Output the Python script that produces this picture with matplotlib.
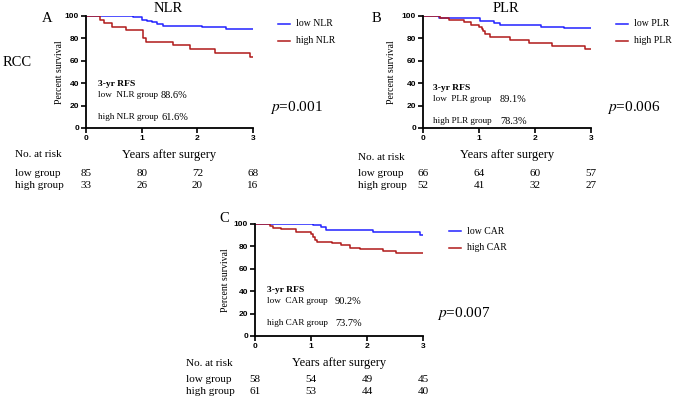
import matplotlib
matplotlib.use("Agg")
import matplotlib.pyplot as plt
from matplotlib.lines import Line2D
import matplotlib.transforms as mtransforms

plt.rcParams["mathtext.fontset"] = "stix"

W, H = 677, 405
SERIF = "Liberation Serif"
SANS = "Liberation Sans"
BLUE = "#2222ff"
RED = "#b01a1a"

# ---------------- data ----------------
years_ticks = [0, 1, 2, 3]
survival_ticks = [0, 20, 40, 60, 80, 100]

# Panel A: NLR
nlr_low_t = [0, 0.85, 1.00, 1.09, 1.18, 1.27, 1.39, 2.09, 2.52, 3.0]
nlr_low_s = [100, 98.8, 96.8, 95.5, 94.2, 92.9, 91.4, 89.9, 88.6, 88.6]
nlr_high_t = [0, 0.25, 0.32, 0.47, 0.72, 1.03, 1.07, 1.57, 1.87, 2.31, 2.94, 3.0]
nlr_high_s = [100, 96.5, 93.6, 90.5, 87.1, 80.2, 77.2, 73.9, 70.3, 66.8, 63.0, 63.0]
nlr_risk_low = [85, 80, 72, 68]
nlr_risk_high = [33, 26, 20, 16]
nlr_rfs = ["88.6%", "61.6%"]
nlr_p = "0.001"

# Panel B: PLR
plr_low_t = [0, 0.28, 1.02, 1.27, 1.38, 2.10, 2.51, 3.0]
plr_low_s = [100, 98.5, 95.8, 93.6, 92.1, 90.5, 89.1, 89.1]
plr_high_t = [0, 0.30, 0.46, 0.73, 0.85, 1.00, 1.05, 1.08, 1.11, 1.20, 1.56, 1.89, 2.30, 2.90, 3.0]
plr_high_s = [100, 98.0, 96.1, 94.2, 92.2, 90.2, 88.2, 86.2, 84.2, 80.9, 78.3, 76.0, 73.3, 70.9, 70.9]
plr_risk_low = [66, 64, 60, 57]
plr_risk_high = [52, 41, 32, 27]
plr_rfs = ["89.1%", "78.3%"]
plr_p = "0.006"

# Panel C: CAR
car_low_t = [0, 1.04, 1.18, 1.27, 2.10, 2.94, 3.0]
car_low_s = [100, 99.0, 97.0, 94.6, 92.6, 90.2, 90.2]
car_high_t = [0, 0.27, 0.32, 0.47, 0.74, 1.00, 1.04, 1.07, 1.10, 1.38, 1.54, 1.69, 1.87, 2.29, 2.52, 3.0]
car_high_s = [100, 98.2, 96.8, 95.4, 93.0, 91.2, 88.0, 86.0, 84.0, 82.7, 81.0, 79.0, 77.4, 75.6, 73.7, 73.7]
car_risk_low = [58, 54, 49, 45]
car_risk_high = [61, 53, 44, 40]
car_rfs = ["90.2%", "73.7%"]
car_p = "0.007"

# ---------------- figure ----------------
fig = plt.figure(figsize=(W / 100, H / 100), dpi=100)
fig.patch.set_facecolor("white")


def fx(x):
    return x / W


def fy(y):
    return 1 - y / H


def ftext(x, y, s, **kw):
    kw.setdefault("family", SERIF)
    kw.setdefault("va", "center")
    kw.setdefault("ha", "left")
    fig.text(fx(x), fy(y), s, **kw)


def panel(box, letter, letter_xy, title, title_xy, name,
          low_t, low_s, high_t, high_s, risk_low, risk_high, rfs, pval,
          leg_xy, ylab_x, inner_xy, pct_x, p_xy, risk_x, risk_ys, xlab_y):
    left, top, right, bottom = box
    ax = fig.add_axes([fx(left), fy(bottom), fx(right - left), (bottom - top) / H])
    ax.step(low_t, low_s, where="post", color=BLUE, lw=1.1)
    ax.step(high_t, high_s, where="post", color=RED, lw=1.1)
    ax.set_xlim(0, 3)
    ax.set_ylim(0, 100)
    ax.set_xticks(years_ticks)
    ax.set_yticks(survival_ticks)
    for sp in ["top", "right"]:
        ax.spines[sp].set_visible(False)
    for sp in ["left", "bottom"]:
        ax.spines[sp].set_linewidth(1.3)
    ax.tick_params(width=1.2, length=3.5, pad=1.5, labelsize=6)
    for lab in ax.get_xticklabels() + ax.get_yticklabels():
        lab.set_family(SANS)
        lab.set_fontweight("bold")
    ax.patch.set_alpha(0)

    # labels
    if title:
        ftext(title_xy[0], title_xy[1], title, ha="center", fontsize=10.5)
    ftext(letter_xy[0], letter_xy[1], letter, ha="center", fontsize=10.5)
    ftext(ylab_x, (top + bottom) / 2, "Percent survival", ha="center",
          rotation=90, fontsize=7)

    # legend
    lx, ly = leg_xy
    for i, (c, lab) in enumerate([(BLUE, f"low {name}"), (RED, f"high {name}")]):
        yy = ly + i * 16.5
        fig.add_artist(Line2D([fx(lx), fx(lx + 12)], [fy(yy), fy(yy)],
                              color=c, lw=1.1, transform=fig.transFigure))
        ftext(lx + 18, yy, lab, fontsize=7)

    # inner text
    ix, iy = inner_xy
    ftext(ix, iy[0], "3-yr RFS", fontsize=6.8, fontweight="bold")
    ftext(ix, iy[1], f"low  {name} group", fontsize=6.6)
    ftext(pct_x, iy[1], rfs[0], fontsize=7.5)
    ftext(ix, iy[2], f"high {name} group", fontsize=6.6)
    ftext(pct_x, iy[2], rfs[1], fontsize=7.5)

    # p value
    fig.text(fx(p_xy[0]), fy(p_xy[1]), r"$p$" + "=" + pval,
             family=SERIF, fontsize=11, va="center", ha="left")

    # x label and risk table
    ftext((left + right) / 2, xlab_y, "Years after surgery", ha="center", fontsize=9)
    ftext(risk_x, risk_ys[0], "No. at risk", fontsize=8)
    ftext(risk_x, risk_ys[1], "low group", fontsize=8)
    ftext(risk_x, risk_ys[2], "high group", fontsize=8)
    trans = mtransforms.blended_transform_factory(ax.transData, fig.transFigure)
    for xv, a, b in zip(years_ticks, risk_low, risk_high):
        fig.text(xv, fy(risk_ys[1]), str(a), transform=trans, ha="center",
                 va="center", family=SERIF, fontsize=8)
        fig.text(xv, fy(risk_ys[2]), str(b), transform=trans, ha="center",
                 va="center", family=SERIF, fontsize=8)
    return ax


panel((86, 16, 253, 128), "A", (47, 19), "NLR", (168, 8), "NLR",
      nlr_low_t, nlr_low_s, nlr_high_t, nlr_high_s, nlr_risk_low, nlr_risk_high,
      nlr_rfs, nlr_p, (278, 24), 59, (98, (84, 95, 117)), 161, (270, 108),
      15, (155, 173, 186), 155)

panel((423, 16, 591, 128), "B", (376, 19), "PLR", (506, 8), "PLR",
      plr_low_t, plr_low_s, plr_high_t, plr_high_s, plr_risk_low, plr_risk_high,
      plr_rfs, plr_p, (616, 24), 392, (433, (88, 99, 121)), 500, (607, 108),
      358, (157, 173, 185), 155)

panel((255, 224, 423, 336), "C", (224, 219), None, None, "CAR",
      car_low_t, car_low_s, car_high_t, car_high_s, car_risk_low, car_risk_high,
      car_rfs, car_p, (449, 231), 226, (267, (290, 301, 323)), 335, (437, 313),
      186, (363, 379, 392), 363)

ftext(3, 62, "RCC", fontsize=10.5)

fig.savefig("out.png", dpi=100, facecolor="white")
